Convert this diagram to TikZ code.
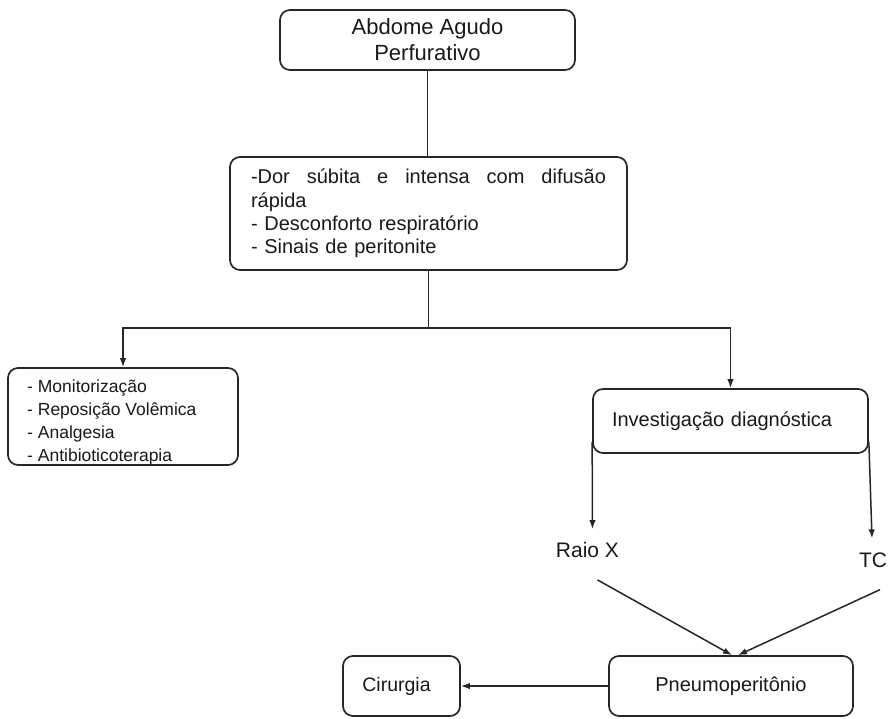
\documentclass[tikz,border=0pt]{standalone}
\usepackage{fontspec}
\setmainfont{Liberation Sans}
\usetikzlibrary{arrows.meta,calc}
\begin{document}
\begin{tikzpicture}[x=1pt,y=-1pt,
  box/.style={draw=black!85, line width=1.7pt, rounded corners=10pt, inner sep=0pt, fill=white, text=black!90},
  conn/.style={draw=black!85, line width=1.5pt},
  arr/.style={conn, -{Latex[length=9pt,width=6.5pt]}},
  lbl/.style={inner sep=0pt, text=black!90}]
\useasboundingbox (0,0) rectangle (891,719);

% boxes
\node[box, minimum width=295pt, minimum height=60pt, align=center,
      font=\fontsize{22}{26}\selectfont] (top) at (427.5,40) {Abdome Agudo\\Perfurativo};

\node[box, minimum width=397pt, minimum height=113pt, text width=355pt, align=left,
      font=\fontsize{20}{23.3}\selectfont] (sx) at (428.5,213.5)
  {\hbox to 355pt{-Dor\hfill súbita\hfill e\hfill intensa\hfill com\hfill difusão}\\rápida\\- Desconforto respiratório\\- Sinais de peritonite};

\node[box, minimum width=230pt, minimum height=97pt] (trt) at (123,416.5) {};
\node[lbl, anchor=north west, align=left, font=\fontsize{17.5}{23}\selectfont]
  (trttext) at (27,380) {- Monitorização\\- Reposição Volêmica\\- Analgesia\\- Antibioticoterapia};

\node[box, minimum width=275pt, minimum height=64pt, text width=237pt, align=left,
      font=\fontsize{20}{24}\selectfont] (inv) at (730.5,421) {Investigação diagnóstica};

\node[lbl, font=\fontsize{21}{25}\selectfont] (raio) at (587.5,550) {Raio X};
\node[lbl, font=\fontsize{21}{25}\selectfont] (tc) at (873,560) {TC};

\node[box, minimum width=244pt, minimum height=60pt, font=\fontsize{20}{24}\selectfont]
  (pn) at (731,686) {Pneumoperitônio};
\node[box, minimum width=117pt, minimum height=60pt, font=\fontsize{19.5}{24}\selectfont]
  (cir) at (401.5,686) {\hspace*{-10pt}Cirurgia};

% connectors
\draw[conn] (top.south) -- (top.south |- sx.north);
\coordinate (jn) at ($(sx.south)+(0,57)$);
\draw[conn] (sx.south) -- (jn);
\draw[arr] (jn) -| (trt.north);
\draw[arr] (jn) -| (inv.north);

\draw[arr] ([yshift=12pt]inv.south west) -- ([shift={(5pt,13pt)}]raio.north);
\draw[arr] ([yshift=12pt]inv.south east) -- ([shift={(-1pt,14pt)}]tc.north);

\draw[arr] ([shift={(10pt,-22pt)}]raio.south) -- ([xshift=1pt]pn.north);
\draw[arr] ([shift={(7pt,-22pt)}]tc.south) -- ([xshift=7pt]pn.north);

\draw[arr] (pn.west) -- (cir.east);
\end{tikzpicture}
\end{document}
